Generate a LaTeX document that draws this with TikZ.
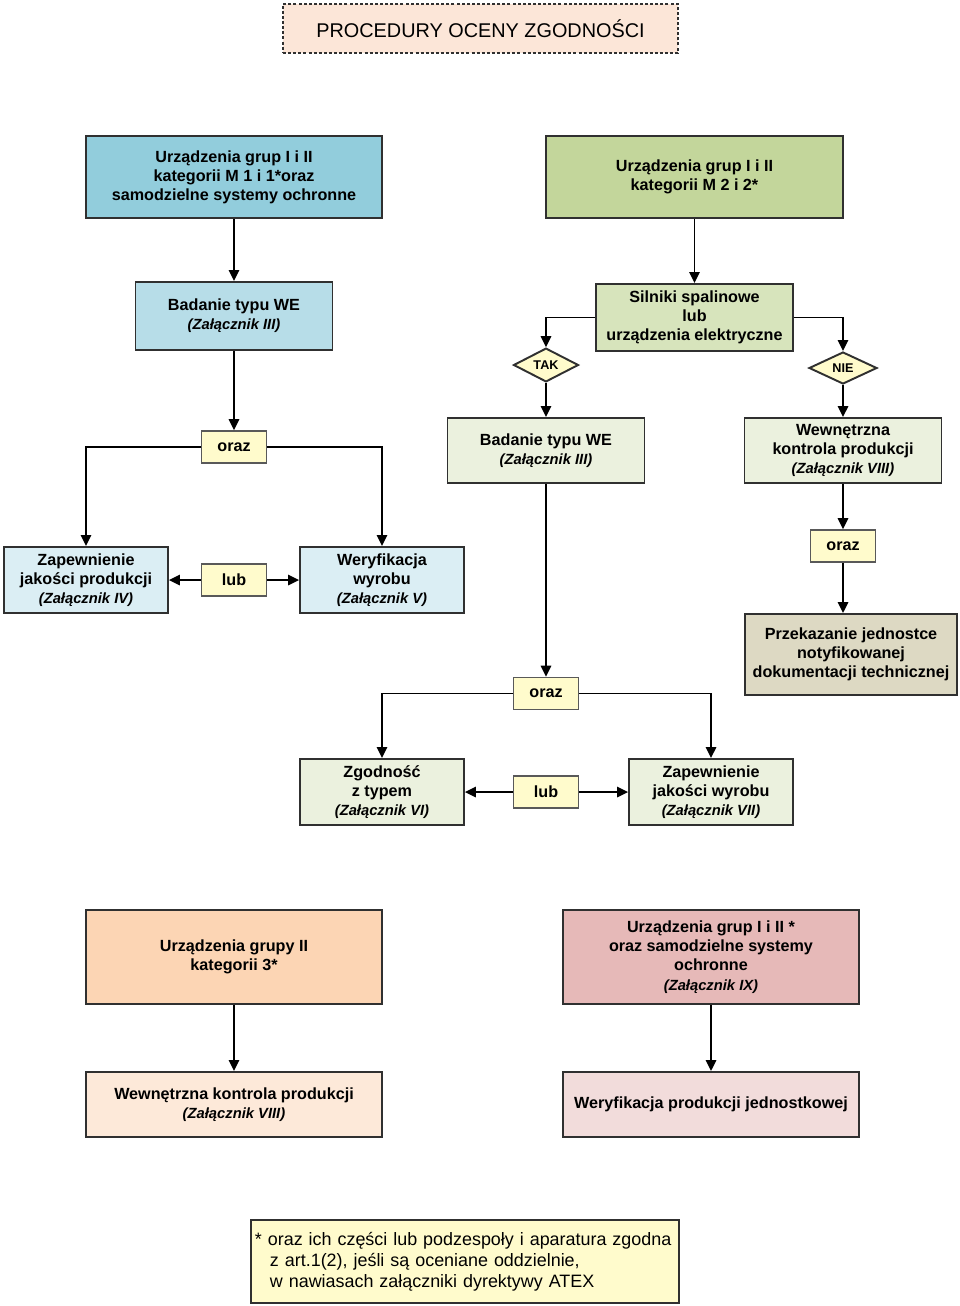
\documentclass[tikz,border=0pt]{standalone}
\usepackage{fontspec}
\setmainfont{Liberation Sans}
\usepackage{tikz}
\usepackage{xcolor}
\usetikzlibrary{arrows.meta, positioning, shapes.geometric}
\definecolor{titlefill}{HTML}{FCE6D8}
\definecolor{catA}{HTML}{92CDDC}
\definecolor{catB}{HTML}{C3D69B}
\definecolor{catAlight}{HTML}{B7DDE8}
\definecolor{catAlighter}{HTML}{DBEEF4}
\definecolor{catBlight}{HTML}{D7E4BC}
\definecolor{catBlighter}{HTML}{EBF1DE}
\definecolor{docfill}{HTML}{DDD9C3}
\definecolor{grpthree}{HTML}{FCD5B4}
\definecolor{grpthreelight}{HTML}{FDE9D9}
\definecolor{grpall}{HTML}{E6B9B8}
\definecolor{grpalllight}{HTML}{F2DCDB}
\definecolor{connfill}{HTML}{FFFBCC}
\definecolor{edge}{HTML}{303030}
\newcommand{\boxfont}{\fontsize{9.2}{10.9}\selectfont\bfseries}
\newcommand{\annex}[1]{{\fontsize{8.4}{10.2}\selectfont\itshape (Załącznik #1)}}
\tikzset{
  procbox/.style={
    draw=edge, line width=1.1pt, fill=#1,
    align=center, inner sep=2pt, font=\boxfont
  },
  procbox/.default=catBlighter,
  connbox/.style={
    draw=edge!80, line width=0.9pt, fill=connfill,
    minimum width=1.3cm, minimum height=0.64cm,
    align=center, inner sep=1pt, font=\boxfont
  },
  choice/.style={
    diamond, draw=edge, line width=1.1pt, fill=connfill,
    inner sep=0pt, font=\fontsize{7.2}{8}\selectfont\bfseries
  },
  darrow/.style={-{Triangle[length=2.2mm, width=2.1mm]}, line width=0.9pt, color=black}
}

\begin{document}
\begin{tikzpicture}[x=0.02cm, y=-0.02cm]
    \useasboundingbox (0,0) rectangle (960,1306);

    % title
    \node[draw=edge, line width=1.1pt, dash pattern=on 1.7pt off 1.2pt, fill=titlefill,
          minimum width=7.9cm, minimum height=0.98cm,
          font=\fontsize{11.3}{13}\selectfont] (title) at (480.5,28.5) {PROCEDURY OCENY ZGODNOŚCI};

    % kategorie M1 / 1
    \node[procbox=catA, minimum width=5.92cm, minimum height=1.64cm] (catM1) at (234,177)
        {Urządzenia grup I i II\\kategorii M 1 i 1*oraz\\samodzielne systemy ochronne};
    \node[procbox=catAlight, minimum width=3.94cm, minimum height=1.36cm] (typeL) at (234,316)
        {Badanie typu WE\\\annex{III}};
    \node[connbox] (andL) at (234,447) {oraz};
    \node[procbox=catAlighter, minimum width=3.28cm, minimum height=1.32cm] (qaProd) at (86,580)
        {Zapewnienie\\jakości produkcji\\\annex{IV}};
    \node[connbox] (orL) at (234,580) {lub};
    \node[procbox=catAlighter, minimum width=3.28cm, minimum height=1.32cm] (verProd) at (382,580)
        {Weryfikacja\\wyrobu\\\annex{V}};

    % kategorie M2 / 2
    \node[procbox=catB, minimum width=5.94cm, minimum height=1.64cm] (catM2) at (694.5,177)
        {Urządzenia grup I i II\\kategorii M 2 i 2*};
    \node[procbox=catBlight, minimum width=3.94cm, minimum height=1.34cm] (engines) at (694.5,317.5)
        {Silniki spalinowe\\lub\\urządzenia elektryczne};
    \node[choice, minimum width=1.3cm, minimum height=0.6cm] (yes) at (546,365) {TAK};
    \node[choice, minimum width=1.36cm, minimum height=0.64cm] (no) at (843,368) {NIE};
    \node[procbox, minimum width=3.94cm, minimum height=1.3cm] (typeR) at (546,450.5)
        {Badanie typu WE\\\annex{III}};
    \node[procbox, minimum width=3.94cm, minimum height=1.3cm] (intR) at (843,450.5)
        {Wewnętrzna\\kontrola produkcji\\\annex{VIII}};
    \node[connbox] (andR) at (843,546) {oraz};
    \node[procbox=docfill, minimum width=4.24cm, minimum height=1.62cm] (docs) at (851,654.5)
        {Przekazanie jednostce\\notyfikowanej\\dokumentacji technicznej};
    \node[connbox] (andM) at (546,693.5) {oraz};
    \node[procbox, minimum width=3.28cm, minimum height=1.32cm] (confType) at (382,792)
        {Zgodność\\z typem\\\annex{VI}};
    \node[connbox] (orM) at (546,792) {lub};
    \node[procbox, minimum width=3.28cm, minimum height=1.32cm] (qaProduct) at (711,792)
        {Zapewnienie\\jakości wyrobu\\\annex{VII}};

    % kategoria 3 / pozostale
    \node[procbox=grpthree, minimum width=5.92cm, minimum height=1.88cm] (cat3) at (234,957)
        {Urządzenia grupy II\\kategorii 3*};
    \node[procbox=grpthreelight, minimum width=5.92cm, minimum height=1.3cm] (intK3) at (234,1104.5)
        {Wewnętrzna kontrola produkcji\\\annex{VIII}};
    \node[procbox=grpall, minimum width=5.92cm, minimum height=1.88cm] (catAll) at (711,957)
        {Urządzenia grup I i II *\\oraz samodzielne systemy\\ochronne\\\annex{IX}};
    \node[procbox=grpalllight, minimum width=5.92cm, minimum height=1.3cm] (unitVer) at (711,1104.5)
        {Weryfikacja produkcji jednostkowej};

    % przypis
    \node[draw=edge, line width=1.1pt, fill=connfill, anchor=west,
          text width=8.4cm, inner xsep=0.08cm, minimum height=1.66cm, align=left,
          font=\fontsize{10.2}{12}\selectfont] (note) at (250,1261.5)
        {* oraz ich części lub podzespoły i aparatura zgodna\\
         \hspace*{0.3cm}z art.1(2), jeśli są oceniane oddzielnie,\\
         \hspace*{0.3cm}w nawiasach załączniki dyrektywy ATEX};

    \draw[darrow] (catM1) -- (typeL);
    \draw[darrow] (typeL) -- (andL);
    \draw[darrow] (andL.west) -| (qaProd.north);
    \draw[darrow] (andL.east) -| (verProd.north);
    \draw[darrow] (orL) -- (qaProd);
    \draw[darrow] (orL) -- (verProd);

    \draw[darrow] (catM2) -- (engines);
    \draw[darrow] (engines.west) -| (yes.north);
    \draw[darrow] (engines.east) -| (no.north);
    \draw[darrow] (yes) -- (typeR);
    \draw[darrow] (no) -- (intR);
    \draw[darrow] (intR) -- (andR);
    \draw[darrow] (andR.south) -- (andR.south |- docs.north);
    \draw[darrow] (typeR) -- (andM);
    \draw[darrow] (andM.west) -| (confType.north);
    \draw[darrow] (andM.east) -| (qaProduct.north);
    \draw[darrow] (orM) -- (confType);
    \draw[darrow] (orM) -- (qaProduct);

    \draw[darrow] (cat3) -- (intK3);
    \draw[darrow] (catAll) -- (unitVer);
  \end{tikzpicture}
\end{document}
